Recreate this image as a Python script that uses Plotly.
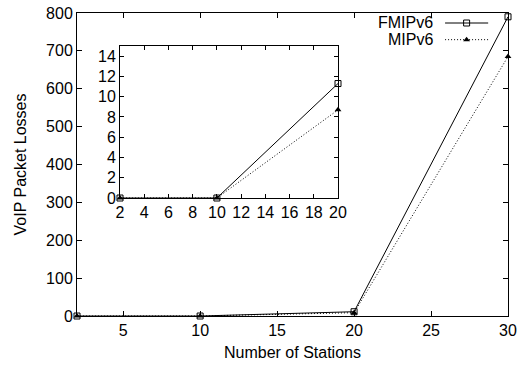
import plotly.graph_objects as go

stations = [2, 10, 20, 30]
fmipv6 = [0, 0, 11.3, 790]
mipv6 = [0, 0, 8.7, 685]

inset_stations = [2, 10, 20]
inset_fmipv6 = [0, 0, 11.3]
inset_mipv6 = [0, 0, 8.7]

main_yticks = [0, 100, 200, 300, 400, 500, 600, 700, 800]
main_xticks = [5, 10, 15, 20, 25, 30]
inset_xticks = [2, 4, 6, 8, 10, 12, 14, 16, 18, 20]
inset_yticks = [0, 2, 4, 6, 8, 10, 12, 14]

FONT = "Liberation Sans, Arial, sans-serif"
FS = 16

fig = go.Figure()

sq = dict(symbol="square-open", size=6, color="black", line=dict(width=1, color="black"))
tri = dict(symbol="triangle-up", size=6, color="black")
DOT = "1px,2px"

fig.add_trace(go.Scatter(x=stations, y=fmipv6, mode="lines+markers", name="FMIPv6",
                         line=dict(color="black", width=1), marker=sq,
                         xaxis="x", yaxis="y", showlegend=False, cliponaxis=False))
fig.add_trace(go.Scatter(x=stations, y=mipv6, mode="lines+markers", name="MIPv6",
                         line=dict(color="black", width=1, dash=DOT), marker=tri,
                         xaxis="x", yaxis="y", showlegend=False, cliponaxis=False))
fig.add_trace(go.Scatter(x=inset_stations, y=inset_fmipv6, mode="lines+markers",
                         line=dict(color="black", width=1), marker=sq,
                         xaxis="x2", yaxis="y2", showlegend=False, cliponaxis=False))
fig.add_trace(go.Scatter(x=inset_stations, y=inset_mipv6, mode="lines+markers",
                         line=dict(color="black", width=1, dash=DOT), marker=tri,
                         xaxis="x2", yaxis="y2", showlegend=False, cliponaxis=False))

# legend samples on a hidden full-size axis
leg_y = [0.967, 0.912]
fig.add_trace(go.Scatter(x=[0.854, 0.954], y=[leg_y[0]] * 2, mode="lines",
                         line=dict(color="black", width=1), xaxis="x3", yaxis="y3",
                         showlegend=False, hoverinfo="skip"))
fig.add_trace(go.Scatter(x=[0.904], y=[leg_y[0]], mode="markers", marker=sq,
                         xaxis="x3", yaxis="y3", showlegend=False, hoverinfo="skip"))
fig.add_trace(go.Scatter(x=[0.854, 0.954], y=[leg_y[1]] * 2, mode="lines",
                         line=dict(color="black", width=1, dash=DOT), xaxis="x3", yaxis="y3",
                         showlegend=False, hoverinfo="skip"))
fig.add_trace(go.Scatter(x=[0.904], y=[leg_y[1]], mode="markers", marker=tri,
                         xaxis="x3", yaxis="y3", showlegend=False, hoverinfo="skip"))

axis_common = dict(showline=True, linecolor="black", linewidth=1, mirror="ticks",
                   ticks="inside", tickcolor="black", showgrid=False, zeroline=False,
                   automargin=False,
                   tickfont=dict(family=FONT, size=FS, color="black"))

fig.update_layout(
    width=520, height=367,
    margin=dict(l=77, r=12, t=13, b=51),
    paper_bgcolor="white", plot_bgcolor="white",
    font=dict(family=FONT, size=FS, color="black"),
    xaxis=dict(range=[2, 30], tickvals=main_xticks, ticklen=5,
               title=dict(text="Number of Stations", font=dict(family=FONT, size=FS), standoff=8),
               **axis_common),
    yaxis=dict(range=[0, 800], tickvals=main_yticks, ticklen=5,
               title=dict(text="VoIP Packet Losses", font=dict(family=FONT, size=FS), standoff=15),
               **axis_common),
    xaxis2=dict(domain=[0.0998, 0.6056], anchor="y2", range=[2, 20], tickvals=inset_xticks,
                ticklen=4, **axis_common),
    yaxis2=dict(domain=[0.3894, 0.891], anchor="x2", range=[0, 15], tickvals=inset_yticks,
                ticklen=4, **axis_common),
    xaxis3=dict(domain=[0, 1], anchor="y3", range=[0, 1], visible=False, overlaying="x"),
    yaxis3=dict(domain=[0, 1], anchor="x3", range=[0, 1], visible=False, overlaying="y"),
    annotations=[
        dict(text="FMIPv6", x=0.8306, y=leg_y[0], xref="paper", yref="paper",
             xanchor="right", yanchor="middle", showarrow=False,
             font=dict(family=FONT, size=FS, color="black")),
        dict(text="MIPv6", x=0.8306, y=leg_y[1], xref="paper", yref="paper",
             xanchor="right", yanchor="middle", showarrow=False,
             font=dict(family=FONT, size=FS, color="black")),
    ],
)

fig.write_html("out.html", config={"displayModeBar": False, "staticPlot": True},
               post_script="document.body.style.margin='0';")

with open("out.html", "r", encoding="utf-8") as f:
    html = f.read()
html = html.replace("<head>", "<head><style>html,body{margin:0;padding:0;overflow:hidden;}</style>", 1)
with open("out.html", "w", encoding="utf-8") as f:
    f.write(html)
